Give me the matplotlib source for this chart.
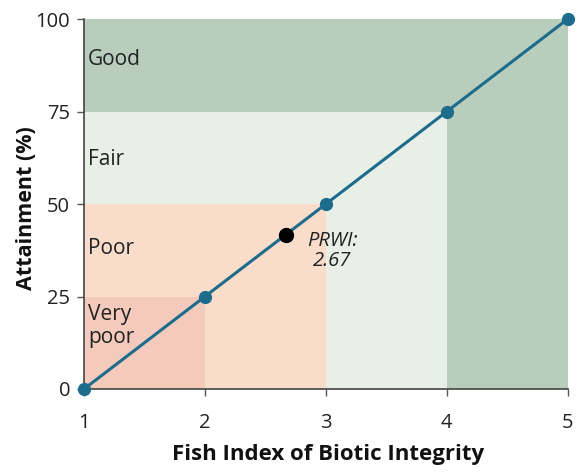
import matplotlib
matplotlib.use("Agg")
import matplotlib.pyplot as plt
from matplotlib.patches import Rectangle

# Condition classes: label, upper FIBI bound, upper attainment bound, fill colour
class_names = ["Good", "Fair", "Poor", "Very\npoor"]
class_fibi_max = [5, 4, 3, 2]
class_attain_max = [100, 75, 50, 25]
class_colors = ["#b9cdbd", "#e7efe6", "#fadccb", "#f3cabb"]
class_label_y = [89, 62, 38, 17]

# Scoring curve
fibi = [1, 2, 3, 4, 5]
attainment = [0, 25, 50, 75, 100]

# Watershed result
prwi_fibi = 2.67
prwi_attainment = 41.75

x_ticks = [1, 2, 3, 4, 5]
y_ticks = [0, 25, 50, 75, 100]

plt.rcParams["font.family"] = ["Open Sans", "DejaVu Sans"]

fig = plt.figure(figsize=(5.77, 4.73), dpi=100)
ax = fig.add_axes([0.1456, 0.1776, 0.8384, 0.7822])
ax.set_xlim(1, 5)
ax.set_ylim(0, 100)

for name, xm, ym, col, ly in zip(class_names, class_fibi_max, class_attain_max,
                                  class_colors, class_label_y):
    ax.add_patch(Rectangle((1, 0), xm - 1, ym, facecolor=col, edgecolor="none", zorder=0))
    ax.text(1.035, ly, name, fontsize=15, color="#222222", va="center", ha="left",
            linespacing=1.15, zorder=2)

ax.plot(fibi, attainment, color="#1d6c8c", lw=2.2, marker="o", ms=8.5,
        markeredgecolor="#1d6c8c", clip_on=False, zorder=3)
ax.plot([prwi_fibi], [prwi_attainment], marker="o", ms=10, color="black", zorder=4)
ax.text(3.05, 42.8, f"PRWI:\n{prwi_fibi:.2f}", fontsize=14.5, style="italic",
        color="#222222", ha="center", va="top", linespacing=1.0, zorder=4)

ax.set_xticks(x_ticks)
ax.set_yticks(y_ticks)
ax.tick_params(axis="both", direction="out", length=5, width=1, color="#555555",
               labelsize=14.5, labelcolor="#222222")
ax.tick_params(axis="x", pad=12)
ax.tick_params(axis="y", pad=5)
for s in ["top", "right"]:
    ax.spines[s].set_visible(False)
for s in ["left", "bottom"]:
    ax.spines[s].set_color("#444444")
    ax.spines[s].set_linewidth(1.2)

ax.set_xlabel("Fish Index of Biotic Integrity", fontsize=16, fontweight="bold",
              color="#111111")
ax.set_ylabel("Attainment (%)", fontsize=15.5, fontweight="bold", color="#111111")
ax.xaxis.set_label_coords(0.504, -0.148)
ax.yaxis.set_label_coords(-0.098, 0.49)

fig.savefig("out.png", dpi=100)
